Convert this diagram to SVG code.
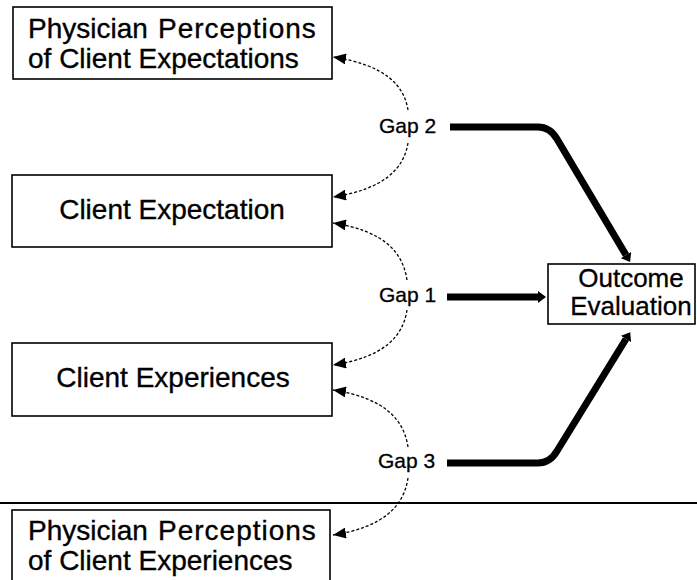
<svg xmlns="http://www.w3.org/2000/svg" width="697" height="580" viewBox="0 0 697 580">
  <style>
    .box { fill: #fff; stroke: #000; stroke-width: 1.6; }
    .lbl { font-family: "Liberation Sans", Arial, sans-serif; font-size: 28px; fill: #000; stroke: #000; stroke-width: 0.35; }
    .wide { letter-spacing: 1px; }
    .out { font-family: "Liberation Sans", Arial, sans-serif; font-size: 26px; fill: #000; stroke: #000; stroke-width: 0.3; text-anchor: middle; }
    .gap { font-family: "Liberation Sans", Arial, sans-serif; font-size: 21px; fill: #000; stroke: #000; stroke-width: 0.3; }
    .dot { fill: none; stroke: #000; stroke-width: 1.3; stroke-dasharray: 3 2; marker-end: url(#tri); }
    .thick { fill: none; stroke: #000; stroke-width: 7; stroke-linejoin: round; marker-end: url(#head); }
  </style>
  <defs>
    <marker id="tri" markerUnits="userSpaceOnUse" viewBox="0 0 13 11" markerWidth="13" markerHeight="11" refX="13" refY="5.5" orient="auto">
      <path d="M0,0 L13,5.5 L0,11 z" fill="#000"/>
    </marker>
    <marker id="head" markerUnits="userSpaceOnUse" viewBox="0 0 8 12" markerWidth="8" markerHeight="12" refX="0" refY="6" orient="auto">
      <path d="M0,0 L8,6 L0,12 z" fill="#000"/>
    </marker>
  </defs>

  <rect width="697" height="580" fill="#fff"/>

  <!-- separator rule -->
  <line x1="0" y1="503" x2="697" y2="503" stroke="#000" stroke-width="2"/>

  <g id="phys-expectations">
    <rect class="box" x="13" y="7" width="319" height="72"/>
    <text class="lbl" y="38"><tspan x="28">Physician</tspan><tspan class="wide" x="158">Perceptions</tspan></text>
    <text class="lbl" x="28" y="68">of Client Expectations</text>
  </g>

  <g id="client-expectation">
    <rect class="box" x="12" y="175" width="320" height="72"/>
    <text class="lbl" x="172" y="219" text-anchor="middle">Client Expectation</text>
  </g>

  <g id="client-experiences">
    <rect class="box" x="12" y="343" width="320" height="73"/>
    <text class="lbl" x="173" y="387" text-anchor="middle">Client Experiences</text>
  </g>

  <g id="phys-experiences">
    <rect class="box" x="12" y="510" width="318" height="82"/>
    <text class="lbl" y="540"><tspan x="28">Physician</tspan><tspan class="wide" x="158">Perceptions</tspan></text>
    <text class="lbl" x="28" y="570">of Client Experiences</text>
  </g>

  <g id="outcome">
    <rect class="box" x="548" y="264" width="147" height="60"/>
    <text class="out" x="631" y="287">Outcome</text>
    <text class="out" x="631" y="315">Evaluation</text>
  </g>

  <g id="gap-labels">
    <text class="gap" x="379" y="133">Gap 2</text>
    <text class="gap" x="379" y="302">Gap 1</text>
    <text class="gap" x="378" y="468">Gap 3</text>
  </g>

  <g id="connectors">
    <!-- dashed comparison links -->
    <path class="dot" d="M408,110 C404,85 385,65 333,57"/>
    <path class="dot" d="M408,143 C404,168 385,189 333,197"/>
    <path class="dot" d="M407,280 C403,253 385,231 333,223"/>
    <path class="dot" d="M407,310 C403,336 385,357 333,365"/>
    <path class="dot" d="M408,447 C404,420 385,398 333,390"/>
    <path class="dot" d="M408,478 C404,505 385,527 333,535"/>
    <!-- heavy links to the outcome box -->
    <path class="thick" d="M450,127 H538 Q550,127 557,139 L626,255"/>
    <path class="thick" d="M447,297 H538"/>
    <path class="thick" d="M447,463 H538 Q550,463 557,451 L626,339"/>
  </g>
</svg>
